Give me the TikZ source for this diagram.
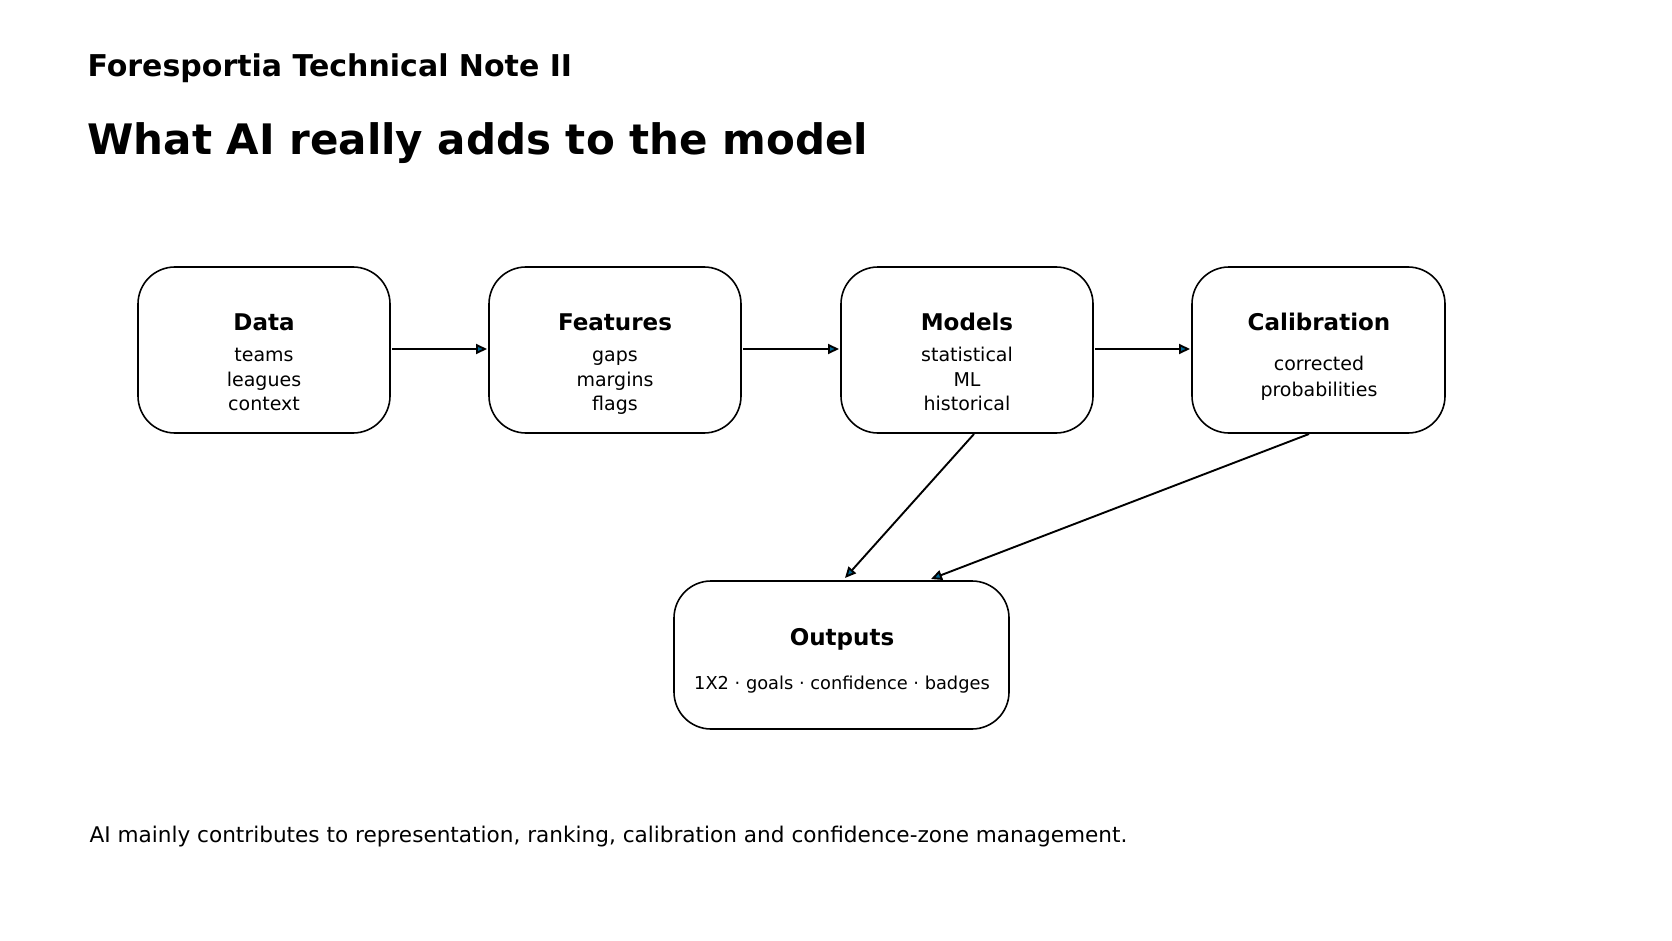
\documentclass[tikz,border=0pt]{standalone}
\usepackage{fontspec}
\setmainfont{DejaVu Sans}
\usetikzlibrary{arrows.meta}
\begin{document}
\begin{tikzpicture}[x=1pt,y=-1pt,
 box/.style={draw=black,line width=1.6pt,rounded corners=37pt},
 ttl/.style={font=\bfseries\fontsize{23}{26}\selectfont,anchor=base},
 bod/.style={font=\fontsize{19}{24.5}\selectfont,anchor=base,inner sep=0pt},
 arr/.style={line width=1.9pt,-{Triangle[length=11pt,width=10pt,fill=black!70!blue!60!cyan]}}]
\useasboundingbox (0,0) rectangle (1672,941);
\node[anchor=base west,font=\bfseries\fontsize{30}{34}\selectfont] (sub) at (84,77) {Foresportia Technical Note II};
\node[anchor=base west,font=\bfseries\fontsize{42}{48}\selectfont] (main) at (84,155) {What AI really adds to the model};
\draw[box] (138,267) rectangle (390,433);
\draw[box] (489,267) rectangle (741,433);
\draw[box] (841,267) rectangle (1093,433);
\draw[box] (1192,267) rectangle (1445,433);
\draw[box] (674,581) rectangle (1009,729);
\node[ttl] (t1) at (264,330) {Data};
\node[bod] (b1a) at (264,361.5) {teams};
\node[bod] (b1b) at (264,386) {leagues};
\node[bod] (b1c) at (264,410.5) {context};
\node[ttl] (t2) at (615,330) {Features};
\node[bod] (b2a) at (615,361.5) {gaps};
\node[bod] (b2b) at (615,386) {margins};
\node[bod] (b2c) at (615,410.5) {flags};
\node[ttl] (t3) at (967,330) {Models};
\node[bod] (b3a) at (967,361.5) {statistical};
\node[bod] (b3b) at (967,386) {ML};
\node[bod] (b3c) at (967,410.5) {historical};
\node[ttl] (t4) at (1319,330) {Calibration};
\node[bod] (b4a) at (1319,370) {corrected};
\node[bod] (b4b) at (1319,396.7) {probabilities};
\node[ttl] (t5) at (842,645) {Outputs};
\node[bod,font=\fontsize{17.8}{22}\selectfont] (b5) at (842,689) {1X2 · goals · confidence · badges};
\coordinate (a1) at (392,349); \coordinate (a2) at (487,349);
\coordinate (a3) at (743,349); \coordinate (a4) at (839,349);
\coordinate (a5) at (1095,349); \coordinate (a6) at (1190,349);
\coordinate (m1) at (974,434); \coordinate (m2) at (845,578);
\coordinate (c1) at (1309,434); \coordinate (c2) at (931,579);
\draw[arr] (a1) -- (a2);
\draw[arr] (a3) -- (a4);
\draw[arr] (a5) -- (a6);
\draw[arr] (m1) -- (m2);
\draw[arr] (c1) -- (c2);
\node[anchor=base west,font=\fontsize{21.6}{25}\selectfont] (foot) at (86,842) {AI mainly contributes to representation, ranking, calibration and confidence-zone management.};
\end{tikzpicture}
\end{document}
